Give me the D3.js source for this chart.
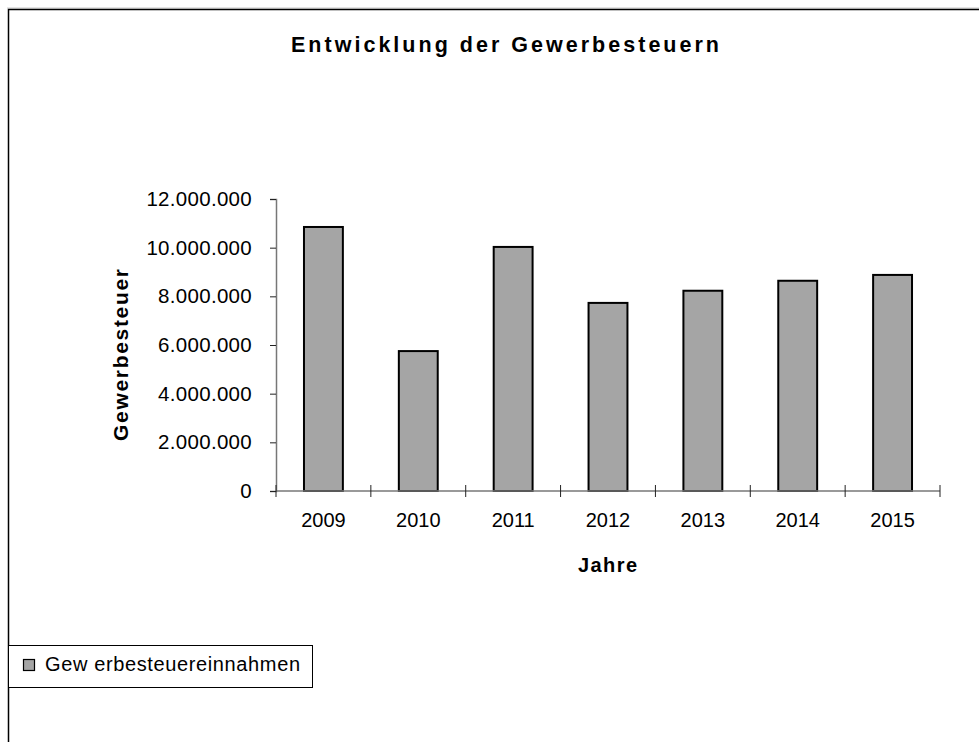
<!DOCTYPE html>
<html><head><meta charset="utf-8">
<script src="https://cdn.jsdelivr.net/npm/d3@7"></script>
<style>
body{margin:0;background:#fff;}
text{font-family:"Liberation Sans",Arial,sans-serif;fill:#000;}
</style></head>
<body>
<svg id="c" width="979" height="742"></svg>
<script>
const years = ["2009","2010","2011","2012","2013","2014","2015"];
const values = [10850000, 5750000, 10030000, 7730000, 8230000, 8640000, 8880000];
const yTicks = [0, 2000000, 4000000, 6000000, 8000000, 10000000, 12000000];
const title = "Entwicklung der Gewerbesteuern";
const xTitle = "Jahre";
const yTitle = "Gewerbesteuer";
const seriesName = "Gew erbesteuereinnahmen";

const svg = d3.select("#c");
const fmt = d3.formatLocale({decimal:",", thousands:".", grouping:[3], currency:["","€"]}).format(",.0f");

// frame
svg.append("line").attr("x1",7).attr("x2",979).attr("y1",8).attr("y2",8).attr("stroke","#c8c8c8").attr("stroke-width",1);
svg.append("path").attr("d","M8.5,742 L8.5,9.5 L979,9.5").attr("fill","none").attr("stroke","#000").attr("stroke-width",1.5);

const x = d3.scaleBand().domain(years).range([276, 940]).paddingInner(0.59).paddingOuter(0.295);
const y = d3.scaleLinear().domain([0, 12000000]).range([491, 199]);

// title
svg.append("text").attr("x",505).attr("y",52).attr("text-anchor","middle")
  .attr("font-size",21.5).attr("font-weight","bold")
  .attr("textLength",428).attr("lengthAdjust","spacing").text(title);

// bars
svg.selectAll("rect.bar").data(values).join("rect").attr("class","bar")
  .attr("x",(d,i)=>x(years[i])).attr("width",x.bandwidth())
  .attr("y",d=>y(d)).attr("height",d=>y(0)-y(d))
  .attr("fill","#a5a5a5").attr("stroke","#000").attr("stroke-width",2);

// y axis
const yAxis = d3.axisLeft(y).tickValues(yTicks).tickFormat(d=>fmt(d)).tickSize(6).tickPadding(18);
const ya = svg.append("g").attr("transform","translate(276,0)").call(yAxis);
ya.select(".domain").attr("stroke","#777").attr("stroke-width",1.5);
ya.selectAll(".tick line").attr("stroke","#222");
ya.selectAll(".tick text").attr("font-size",20.5).attr("letter-spacing","0.3px")
  .attr("font-family","Liberation Sans, Arial, sans-serif").attr("fill","#000");

// x axis
const xAxis = d3.axisBottom(x).tickSize(0).tickPadding(22);
const xa = svg.append("g").attr("transform","translate(0,491)").call(xAxis);
xa.select(".domain").remove();
xa.selectAll(".tick text").attr("font-size",20).attr("font-family","Liberation Sans, Arial, sans-serif").attr("fill","#000");
svg.append("line").attr("x1",276).attr("x2",940).attr("y1",491).attr("y2",491).attr("stroke","#777").attr("stroke-width",1.5);
const step = x.step();
const bounds = [x(years[0]) - x.paddingOuter()*step].concat(years.map(c=>x(c)+x.bandwidth()+x.paddingInner()*step/2));
svg.selectAll("line.xt").data(bounds).join("line").attr("class","xt")
  .attr("x1",d=>d).attr("x2",d=>d).attr("y1",485).attr("y2",497).attr("stroke","#222").attr("stroke-width",1);

// axis titles
svg.append("text").attr("x",607.5).attr("y",572).attr("text-anchor","middle").attr("font-size",20).attr("font-weight","bold")
  .attr("textLength",59).attr("lengthAdjust","spacing").text(xTitle);
svg.append("text").attr("transform","translate(128,355) rotate(-90)").attr("text-anchor","middle").attr("font-size",21).attr("font-weight","bold")
  .attr("textLength",172).attr("lengthAdjust","spacing").text(yTitle);

// legend
svg.append("rect").attr("x",8.5).attr("y",645.5).attr("width",304).attr("height",42).attr("fill","#fff").attr("stroke","#000").attr("stroke-width",1);
svg.append("rect").attr("x",23.5).attr("y",659.5).attr("width",11).attr("height",11).attr("fill","#a5a5a5").attr("stroke","#000").attr("stroke-width",1.2);
svg.append("text").attr("x",45).attr("y",671).attr("font-size",20)
  .attr("textLength",255).attr("lengthAdjust","spacing").text(seriesName);
</script>
</body></html>
